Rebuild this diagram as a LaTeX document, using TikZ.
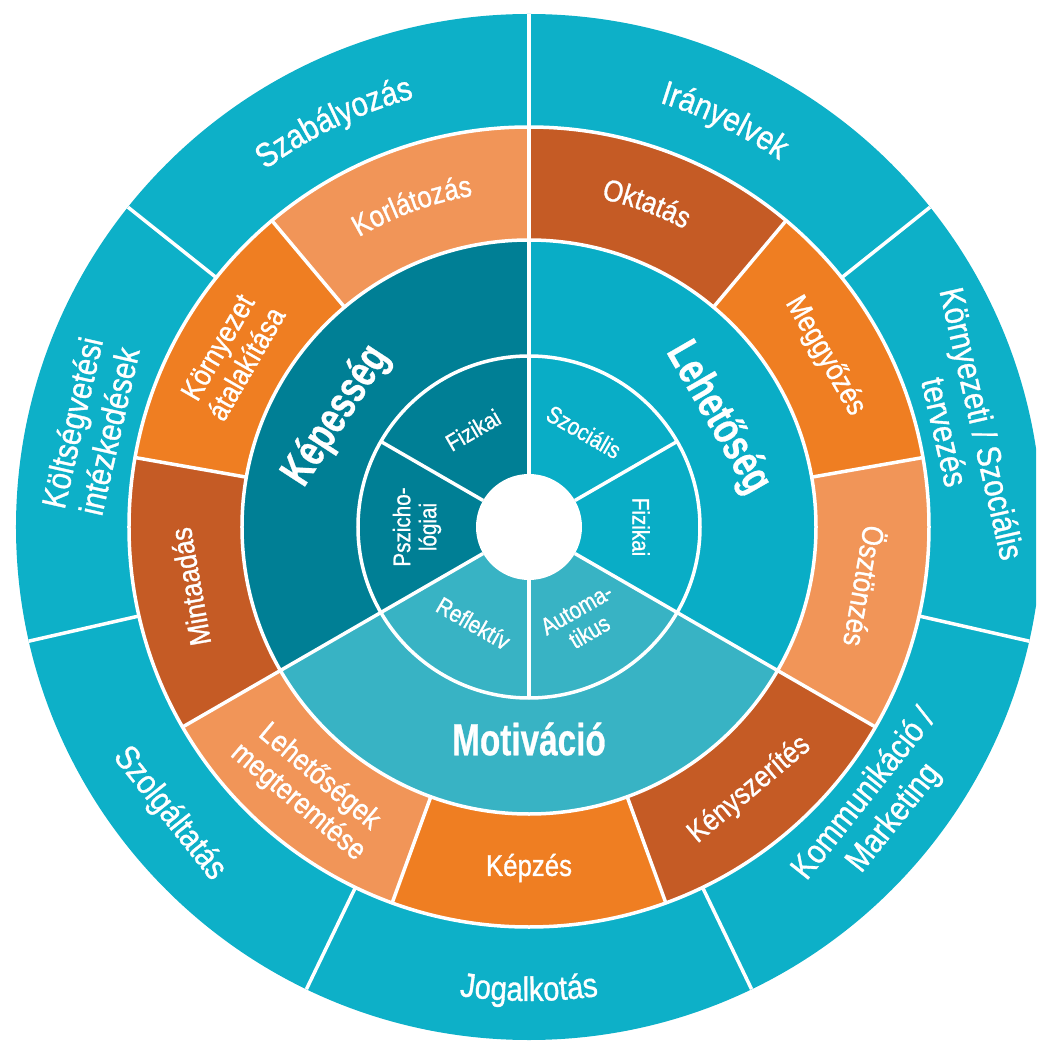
\documentclass[tikz,border=0pt]{standalone}
\usepackage{fontspec}
\setmainfont{Liberation Sans}[FakeStretch=0.86, FakeBold=1]
\newfontfamily\comfamily{Liberation Sans}[FakeStretch=0.74, FakeBold=0.6]
\usetikzlibrary{decorations.text}
\definecolor{polteal}{HTML}{0DB0C8}
\definecolor{capteal}{HTML}{007F95}
\definecolor{oppteal}{HTML}{09ADC6}
\definecolor{motteal}{HTML}{38B3C4}
\definecolor{rust}{HTML}{C55B25}
\definecolor{orng}{HTML}{EF7E22}
\definecolor{lorng}{HTML}{F19558}
\newcommand{\polfont}{\fontsize{34}{38}\selectfont}
\newcommand{\intfont}{\fontsize{30}{33}\selectfont}
\newcommand{\comfont}{\comfamily\bfseries\fontsize{45}{46}\selectfont}
\newcommand{\innfont}{\fontsize{24}{26}\selectfont}
\newcommand{\pie}[4]{\fill[#4] (0,0) -- (#1:#3pt) arc[start angle=#1, end angle=#2, radius=#3pt] -- cycle;}
\begin{document}
\begin{tikzpicture}[x=1pt,y=1pt,
  wline/.style={white, line width=3.5pt},
  poltext/.style={text=white, font=\polfont, align=center, inner sep=0pt},
  inttext/.style={text=white, font=\intfont, align=center, inner sep=0pt},
  comtext/.style={text=white, font=\comfont, align=center, inner sep=0pt},
  inntext/.style={text=white, font=\innfont, align=center, inner sep=0pt}]
\useasboundingbox (-529,-514) rectangle (507,527);
\begin{scope}
\clip (-529,-514) rectangle (507,527);
% policy ring
\fill[polteal] (0,0) circle[radius=513pt];
% intervention ring
\pie{90}{50}{400}{rust}
\pie{50}{10}{400}{orng}
\pie{10}{-30}{400}{lorng}
\pie{-30}{-70}{400}{rust}
\pie{-70}{-110}{400}{orng}
\pie{-110}{-150}{400}{lorng}
\pie{-150}{-190}{400}{rust}
\pie{170}{130}{400}{orng}
\pie{130}{90}{400}{lorng}
% COM ring
\pie{90}{210}{287}{capteal}
\pie{-30}{90}{287}{oppteal}
\pie{210}{330}{287}{motteal}
% centre
\fill[white] (0,0) circle[radius=53pt];
% white lines
\draw[wline] (0,0) circle[radius=171pt];
\draw[wline] (0,0) circle[radius=287pt];
\draw[wline] (0,0) circle[radius=400pt];
\draw[wline] (90:53) -- (90:513);
\foreach \a in {30,150,270} \draw[wline] (\a:53) -- (\a:171);
\foreach \a in {-30,210} \draw[wline] (\a:53) -- (\a:400);
\foreach \a in {50,10,-70,-110,170,130} \draw[wline] (\a:287) -- (\a:400);
\foreach \a in {38.571,-12.857,-64.286,-115.714,-167.143,141.429} \draw[wline] (\a:400) -- (\a:513);
\end{scope}
% policy labels
\path[decorate, decoration={text along path, text align=center, text color=white, text={|\polfont|Szabályozás}}] (140.71:444) arc[start angle=140.71, end angle=90.71, radius=444pt];
\path[decorate, decoration={text along path, text align=center, text color=white, text={|\polfont|Irányelvek}}] (89.29:444) arc[start angle=89.29, end angle=39.29, radius=444pt];
\path[decorate, decoration={text along path, text align=center, text color=white, text={|\polfont|Jogalkotás}}] (-115:474) arc[start angle=-115, end angle=-65, radius=474pt];
\node[poltext, rotate=-77.14] (kornyterv) at (12.86:446) {Környezeti / Szociális\\tervezés};
\node[poltext, rotate=51.43] (kommunik) at (-38.57:448) {Kommunikáció /\\Marketing};
\node[poltext, rotate=-51.43] (szolg) at (-141.43:460) {Szolgáltatás};
\node[poltext, rotate=77.14] (koltseg) at (167.14:450) {Költségvetési\\intézkedések};
% intervention labels
\path[decorate, decoration={text along path, text align=center, text color=white, text={|\intfont|Korlátozás}}] (130:336) arc[start angle=130, end angle=90, radius=336pt];
\path[decorate, decoration={text along path, text align=center, text color=white, text={|\intfont|Oktatás}}] (90:336) arc[start angle=90, end angle=50, radius=336pt];
\node[inttext, rotate=-60] (meggy) at (30:342) {Meggyőzés};
\node[inttext, rotate=-100] (osztonz) at (-10:342) {Ösztönzés};
\node[inttext, rotate=40] (kenysz) at (-50:343) {Kényszerítés};
\node[inttext, rotate=0] (kepzes) at (-90:341) {Képzés};
\node[inttext, rotate=-40] (lehetos) at (-130:343) {Lehetőségek\\megteremtése};
\node[inttext, rotate=100] (mintaad) at (190:344) {Mintaadás};
\node[inttext, rotate=60] (kornyat) at (150:343) {Környezet\\átalakítása};
% COM labels
\node[comtext, rotate=57] (kepesseg) at (150:222) {Képesség};
\node[comtext, rotate=-60] (lehetoseg) at (30:218) {Lehetőség};
\node[comtext] (motivacio) at (-90:212) {Motiváció};
% inner labels
\node[inntext, rotate=30] (fizk) at (120:112) {Fizikai};
\node[inntext, rotate=-30] (szoc) at (60:110) {Szociális};
\node[inntext, rotate=-90] (fizl) at (0:112) {Fizikai};
\node[inntext, rotate=30] (autom) at (-60:108) {Automa-\\tikus};
\node[inntext, rotate=-30] (reflek) at (-120:111) {Reflektív};
\node[inntext, rotate=90] (pszich) at (180:112) {Pszicho-\\lógiai};
\end{tikzpicture}
\end{document}
